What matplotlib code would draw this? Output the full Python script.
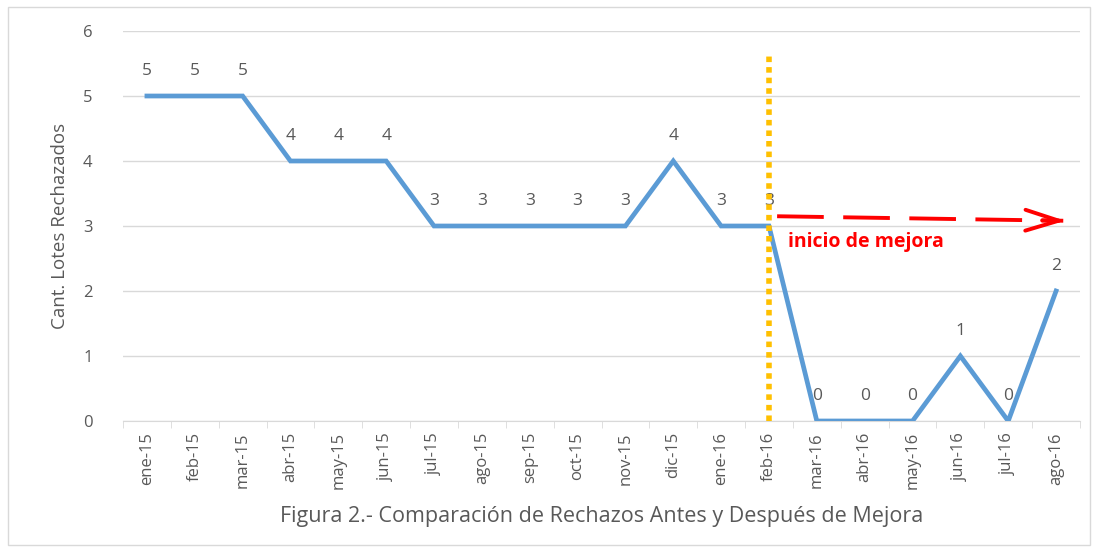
import matplotlib.pyplot as plt
from matplotlib.patches import Rectangle

plt.rcParams['font.family'] = ['Open Sans', 'DejaVu Sans']

meses = ["ene-15", "feb-15", "mar-15", "abr-15", "may-15", "jun-15", "jul-15",
         "ago-15", "sep-15", "oct-15", "nov-15", "dic-15", "ene-16", "feb-16",
         "mar-16", "abr-16", "may-16", "jun-16", "jul-16", "ago-16"]
rechazados = [5, 5, 5, 4, 4, 4, 3, 3, 3, 3, 3, 4, 3, 3, 0, 0, 0, 1, 0, 2]
mes_mejora = "feb-16"

gris = "#595959"
azul = "#5B9BD5"
rojo = "#FF0000"

fig = plt.figure(figsize=(10.96, 5.52), dpi=100)
ax = fig.add_axes([123 / 1096, 1 - 421 / 552, (1080 - 123) / 1096, (421 - 31) / 552])

# marco exterior del grafico
fig.patches.append(Rectangle((8 / 1096, 7 / 552), 1082 / 1096, 538 / 552,
                             transform=fig.transFigure, fill=False,
                             edgecolor="#D9D9D9", linewidth=1))

x = list(range(len(meses)))
ax.plot(x, rechazados, color=azul, linewidth=3.4, solid_joinstyle="miter", zorder=3)
for xi, v in zip(x, rechazados):
    ax.text(xi, v + 0.26, str(v), ha="center", va="bottom", fontsize=12.5, color=gris)

ax.set_xlim(-0.5, len(meses) - 0.5)
ax.set_ylim(0, 6)
ax.set_yticks(range(0, 7))
ax.yaxis.grid(True, color="#D9D9D9", linewidth=1)
ax.set_axisbelow(True)
for s in ["top", "right", "left"]:
    ax.spines[s].set_visible(False)
ax.spines["bottom"].set_color("#D9D9D9")
ax.tick_params(axis="y", length=0, pad=22, labelsize=12, labelcolor=gris)

ax.set_xticks(x)
ax.set_xticklabels(meses, rotation=90, fontsize=12, color=gris)
ax.set_xticks([i - 0.5 for i in range(len(meses) + 1)], minor=True)
ax.tick_params(axis="x", which="major", length=0, pad=8)
ax.tick_params(axis="x", which="minor", length=5, color="#D9D9D9")

ax.set_ylabel("Cant. Lotes Rechazados", fontsize=13.5, color=gris, labelpad=10)
ax.set_xlabel("Figura 2.- Comparación de Rechazos Antes y Después de Mejora",
              fontsize=15.5, color=gris, labelpad=12)

# linea de inicio de la mejora
im = meses.index(mes_mejora)
ax.plot([im, im], [0, 5.68], color="#FFC000", linewidth=4,
        linestyle=(0, (1, 0.9)), zorder=4, clip_on=False)

# flecha discontinua hacia la derecha
x0, y0 = im + 0.17, 3.15
x1, y1 = 19.25, 3.08
ax.plot([x0, x1 - 0.1], [y0, y1 + 0.001], color=rojo, linewidth=2.8,
        linestyle=(0, (12, 5)), zorder=5)
ax.annotate("", xy=(x1, y1), xytext=(x1 - 0.6, y1 + 0.006),
            arrowprops=dict(arrowstyle="->,head_length=2.4,head_width=0.75",
                            color=rojo, linewidth=2.8), zorder=5)
ax.text(im + 0.4, 2.75, "inicio de mejora", color=rojo, fontsize=14,
        fontweight="bold", va="center", ha="left")

fig.savefig("out.png", dpi=100)
